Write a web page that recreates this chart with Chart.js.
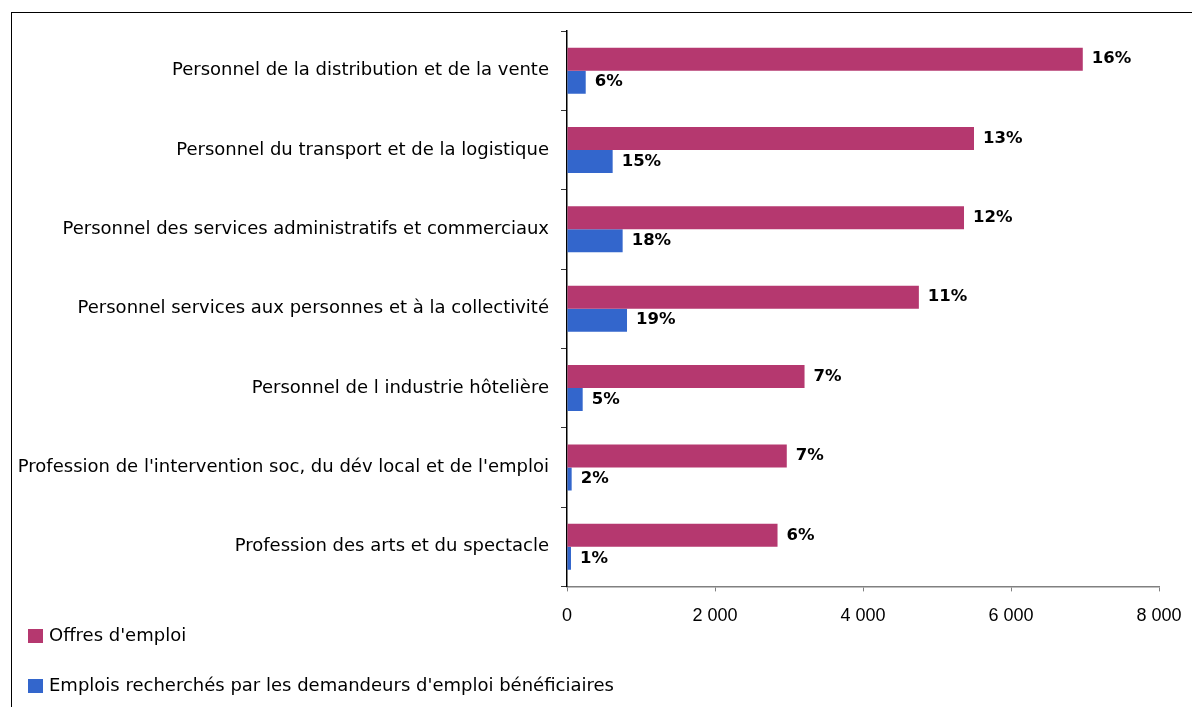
<!DOCTYPE html>
<html>
<head>
<meta charset="utf-8">
<script src="https://cdn.jsdelivr.net/npm/chart.js@4/dist/chart.umd.min.js"></script>
<style>
  html, body { margin: 0; padding: 0; background: #fff; }
  #wrap { position: relative; width: 1192px; height: 707px; }
</style>
</head>
<body>
<div id="wrap"><canvas id="chart"></canvas></div>
<script>
// ── Data ────────────────────────────────────────────────────────────────────
const categories = [
  'Personnel de la distribution et de la vente',
  'Personnel du transport et de la logistique',
  'Personnel des services administratifs et commerciaux',
  'Personnel services aux personnes et à la collectivité',
  'Personnel de l industrie hôtelière',
  "Profession de l'intervention soc, du dév local et de l'emploi",
  'Profession des arts et du spectacle',
];
const seriesNames = ["Offres d'emploi", "Emplois recherchés par les demandeurs d'emploi bénéficiaires"];
const offres     = [6970, 5500, 5365, 4755, 3210, 2970, 2845];
const emplois    = [253, 617, 752, 811, 212, 63, 54];
const offresPct  = ['16%', '13%', '12%', '11%', '7%', '7%', '6%'];
const emploisPct = ['6%', '15%', '18%', '19%', '5%', '2%', '1%'];
const xTicks     = [0, 2000, 4000, 6000, 8000];

const COLORS = ['#b5386f', '#3366cc'];
const FONT   = "'Comic Sans MS', 'DejaVu Sans', sans-serif";

// ── Plugins ─────────────────────────────────────────────────────────────────
// outer frame
const framePlugin = {
  id: 'frame',
  beforeDraw(chart) {
    const ctx = chart.ctx;
    ctx.save();
    ctx.strokeStyle = '#000';
    ctx.lineWidth = 1;
    ctx.strokeRect(11.5, 12.5, 2000, 2000);
    ctx.restore();
  },
};

// percentage labels at the end of each bar
const pctPlugin = {
  id: 'pctLabels',
  afterDatasetsDraw(chart) {
    const ctx = chart.ctx;
    const texts = [offresPct, emploisPct];
    ctx.save();
    ctx.font = 'bold 16.5px ' + FONT;
    ctx.fillStyle = '#000';
    ctx.textAlign = 'left';
    ctx.textBaseline = 'middle';
    chart.data.datasets.forEach((ds, di) => {
      chart.getDatasetMeta(di).data.forEach((bar, i) => {
        ctx.fillText(texts[di][i], bar.x + 9, bar.y);
      });
    });
    ctx.restore();
  },
};

// legend stacked vertically in the bottom-left corner
const legendPlugin = {
  id: 'stackLegend',
  afterDraw(chart) {
    const ctx = chart.ctx;
    ctx.save();
    ctx.font = '18px ' + FONT;
    ctx.textBaseline = 'middle';
    chart.data.datasets.forEach((ds, i) => {
      const cy = 636 + i * 50;
      ctx.fillStyle = ds.backgroundColor;
      ctx.fillRect(28, cy - 7, 15, 14);
      ctx.fillStyle = '#000';
      ctx.fillText(ds.label, 49, cy);
    });
    ctx.restore();
  },
};

// ── Chart ───────────────────────────────────────────────────────────────────
new Chart(document.getElementById('chart'), {
  type: 'bar',
  data: {
    labels: categories,
    datasets: [
      { label: seriesNames[0], data: offres,  backgroundColor: COLORS[0] },
      { label: seriesNames[1], data: emplois, backgroundColor: COLORS[1] },
    ],
  },
  options: {
    indexAxis: 'y',
    responsive: true,
    maintainAspectRatio: false,
    animation: false,
    layout: { padding: { top: 31, right: 33, bottom: 66, left: 0 } },
    datasets: { bar: { categoryPercentage: 0.58, barPercentage: 1 } },
    plugins: {
      legend: { display: false },
      tooltip: { enabled: false },
    },
    scales: {
      x: {
        min: 0,
        max: 8000,
        afterBuildTicks: scale => { scale.ticks = xTicks.map(v => ({ value: v })); },
        afterFit: scale => { scale.paddingLeft = 0; scale.paddingRight = 0; },
        border: { display: true, color: '#808080', width: 1.5 },
        grid: { drawOnChartArea: false, drawTicks: true, tickLength: 5, color: '#808080' },
        ticks: {
          padding: 14,
          color: '#000',
          font: { family: "'Liberation Sans', Arial, sans-serif", size: 18 },
          callback: v => String(v).replace(/\B(?=(\d{3})+(?!\d))/g, ' '),
        },
      },
      y: {
        afterFit: scale => { scale.width = 567; },
        border: { display: true, color: '#000', width: 1.5 },
        grid: { drawOnChartArea: false, drawTicks: true, tickLength: 6, color: '#333', offset: true },
        ticks: {
          padding: 12,
          color: '#000',
          font: { family: FONT, size: 18 },
        },
      },
    },
  },
  plugins: [framePlugin, pctPlugin, legendPlugin],
});
</script>
</body>
</html>
